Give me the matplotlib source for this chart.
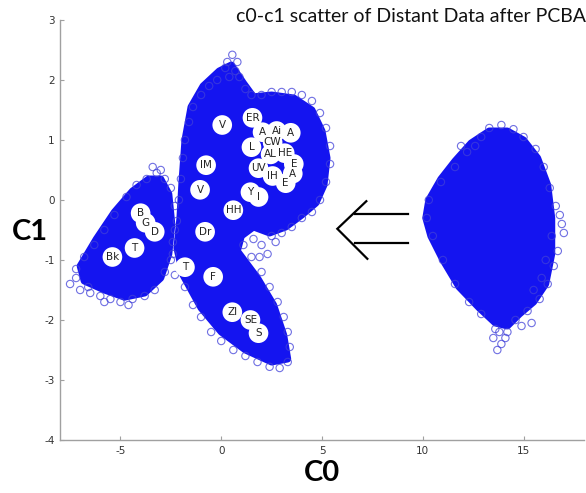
import matplotlib
matplotlib.use("Agg")
import matplotlib.pyplot as plt
from matplotlib.patches import Polygon

plt.rcParams['axes.unicode_minus'] = False

# ---- data (C0, C1) ----
# dense cores of the three clouds (outline vertices)
right_core_c0 = [13.3, 14.2, 15.0, 15.7, 16.2, 16.4, 16.4, 16.1, 15.5, 14.8, 14.2, 13.6, 12.8, 11.8, 11.0, 10.4, 10.15, 10.3, 10.9, 11.6, 12.4]
right_core_c1 = [1.15, 1.15, 1.0, 0.7, 0.25, -0.3, -0.9, -1.4, -1.7, -1.9, -2.1, -2.05, -1.8, -1.45, -1.0, -0.6, -0.3, 0.0, 0.35, 0.65, 0.95]

left_core_c0 = [-3.0, -2.6, -2.45, -2.6, -3.0, -3.8, -4.8, -5.8, -6.8, -7.0, -6.2, -5.3, -4.4, -3.6]
left_core_c1 = [0.35, 0.1, -0.4, -0.9, -1.3, -1.55, -1.62, -1.5, -1.35, -1.1, -0.65, -0.2, 0.15, 0.35]

mid_core_c0 = [0.5, 1.1, 1.6, 2.5, 3.6, 4.5, 5.0, 5.25, 5.1, 4.7, 4.0, 3.2, 2.4, 1.6, 1.0, 0.8, 1.8, 2.6, 3.1, 3.3, 2.5, 1.2, 0.0, -1.0, -1.9, -2.2, -2.05, -1.95, -1.8, -1.5, -0.9, -0.1]
mid_core_c1 = [2.25, 1.95, 1.72, 1.75, 1.7, 1.5, 1.15, 0.7, 0.25, -0.05, -0.25, -0.45, -0.55, -0.45, -0.6, -0.85, -1.3, -1.75, -2.25, -2.65, -2.7, -2.5, -2.2, -1.8, -1.25, -0.8, -0.3, 0.3, 1.0, 1.55, 1.9, 2.15]

# sparse points at the fringes of the clouds
right_pts_c0 = [13.3, 13.9, 14.5, 15.0, 12.6, 15.6, 16.0, 16.3, 16.6, 16.9, 17.0, 16.7, 16.5, 16.2, 15.8, 15.2, 14.6, 14.2, 13.9, 13.7, 13.5, 14.9, 15.4, 12.9, 12.3, 11.6, 11.0, 10.5, 10.2, 10.3, 10.9, 11.6, 12.2, 16.4, 16.1, 15.9, 15.5, 16.8, 14.1, 13.6, 13.8, 12.9, 11.9]
right_pts_c1 = [1.2, 1.25, 1.18, 1.05, 0.9, 0.85, 0.55, 0.2, -0.1, -0.4, -0.55, -0.85, -1.1, -1.4, -1.65, -1.85, -2.0, -2.2, -2.4, -2.5, -2.3, -2.1, -2.05, -1.9, -1.7, -1.4, -1.0, -0.6, -0.3, 0.0, 0.3, 0.55, 0.8, -0.6, -1.0, -1.3, -1.5, -0.25, -2.3, -2.15, -2.2, 1.05, 0.9]

left_pts_c0 = [-7.5, -7.2, -7.0, -6.5, -6.0, -5.5, -5.0, -4.4, -3.8, -3.3, -2.8, -2.4, -2.3, -2.3, -2.5, -2.8, -3.2, -3.7, -4.2, -4.7, -5.3, -5.8, -6.3, -6.8, -7.2, -3.4, -3.0, -6.6, -5.8, -4.6]
left_pts_c1 = [-1.4, -1.3, -1.5, -1.55, -1.6, -1.65, -1.7, -1.65, -1.6, -1.5, -1.2, -0.9, -0.5, -0.1, 0.2, 0.35, 0.45, 0.35, 0.25, 0.05, -0.25, -0.5, -0.75, -0.95, -1.15, 0.55, 0.5, -1.45, -1.7, -1.75]

mid_pts_c0 = [0.2, 0.55, 0.8, 0.4, 0.9, -0.2, -0.6, 1.2, -1.0, -1.4, -1.6, -1.8, -1.9, -2.0, -2.1, -2.2, -2.4, -2.5, -2.3, -1.8, -1.4, -1.0, -0.5, 0.0, 0.6, 1.2, 1.8, 2.4, 2.9, 3.3, 3.4, 3.3, 3.1, 2.8, 2.4, 2.0, 1.5, 1.1, 1.6, 2.0, 2.3, 2.5, 3.0, 3.5, 4.0, 4.5, 4.9, 5.2, 5.4, 5.4, 5.2, 4.9, 4.5, 4.0, 3.5, 3.0, 2.5, 2.0, 1.5, 0.3, 0.7, 1.9, 2.7]
mid_pts_c1 = [2.2, 2.42, 2.3, 2.05, 2.05, 2.0, 1.9, 1.85, 1.75, 1.55, 1.3, 1.0, 0.7, 0.35, 0.0, -0.35, -0.7, -1.0, -1.25, -1.45, -1.75, -1.95, -2.2, -2.35, -2.5, -2.6, -2.7, -2.78, -2.8, -2.7, -2.45, -2.2, -1.95, -1.7, -1.45, -1.2, -0.95, -0.75, -0.65, -0.75, -0.9, -0.6, -0.55, -0.45, -0.3, -0.2, 0.0, 0.3, 0.6, 0.9, 1.2, 1.45, 1.65, 1.75, 1.8, 1.8, 1.8, 1.75, 1.75, 2.3, 2.15, -0.95, -0.7]

# labelled samples
label_text = ["V", "ER", "A", "Ai", "A", "CW", "L", "AL", "HE", "E", "UV", "IH", "A", "E",
              "IM", "V", "HH", "Y", "I", "Dr", "T", "F", "ZI", "SE", "S",
              "B", "G", "D", "T", "Bk"]
label_c0 = [0.05, 1.55, 2.05, 2.75, 3.45, 2.55, 1.5, 2.45, 3.15, 3.6, 1.85, 2.55, 3.55, 3.2,
            -0.75, -1.05, 0.6, 1.45, 1.85, -0.8, -1.8, -0.4, 0.55, 1.45, 1.85,
            -4.0, -3.75, -3.3, -4.3, -5.4]
label_c1 = [1.25, 1.37, 1.13, 1.15, 1.12, 0.96, 0.88, 0.76, 0.78, 0.6, 0.53, 0.4, 0.44, 0.28,
            0.58, 0.17, -0.17, 0.13, 0.05, -0.53, -1.12, -1.28, -1.87, -2.0, -2.22,
            -0.22, -0.38, -0.53, -0.8, -0.95]

x_ticks = [-5, 0, 5, 10, 15]
y_ticks = [-4, -3, -2, -1, 0, 1, 2, 3]

# arrow pointing from the distant cloud towards the others
arrow_head_c0 = [7.2, 5.76, 7.25]
arrow_head_c1 = [-0.02, -0.48, -0.98]
arrow_shaft_c0 = [6.65, 9.28]
arrow_shaft_top_c1 = [-0.23, -0.23]
arrow_shaft_bot_c1 = [-0.72, -0.72]

# ---- figure ----
fig = plt.figure(figsize=(5.86, 4.93), dpi=100)
ax = fig.add_axes([60 / 586, 53 / 493, 524 / 586, 420 / 493])

core_color = '#1414f0'
ring_color = (0.25, 0.25, 0.85)
for cx, cy in [(right_core_c0, right_core_c1), (left_core_c0, left_core_c1), (mid_core_c0, mid_core_c1)]:
    ax.add_patch(Polygon(list(zip(cx, cy)), closed=True, facecolor=core_color,
                         edgecolor=core_color, linewidth=5, joinstyle='round', zorder=2))

for px, py in [(right_pts_c0, right_pts_c1), (left_pts_c0, left_pts_c1), (mid_pts_c0, mid_pts_c1)]:
    ax.scatter(px, py, s=28, facecolors='none', edgecolors=ring_color, linewidths=0.8,
               alpha=0.75, zorder=3)

ax.scatter(label_c0, label_c1, s=200, color='white', edgecolors='none', zorder=4)
for t, x, y in zip(label_text, label_c0, label_c1):
    ax.text(x, y, t, fontsize=7.5, color='#222222', ha='center', va='center', zorder=5,
            family='DejaVu Sans')

ax.plot(arrow_head_c0, arrow_head_c1, color='black', lw=1.6, zorder=3, solid_joinstyle='miter')
ax.plot(arrow_shaft_c0, arrow_shaft_top_c1, color='black', lw=1.6, zorder=3)
ax.plot(arrow_shaft_c0, arrow_shaft_bot_c1, color='black', lw=1.6, zorder=3)

ax.set_xlim(-8, 18)
ax.set_ylim(-4, 3)
ax.set_xticks(x_ticks)
ax.set_yticks(y_ticks)
for s in ['top', 'right']:
    ax.spines[s].set_visible(False)
for s in ['left', 'bottom']:
    ax.spines[s].set_color('#a0a0a0')
    ax.spines[s].set_linewidth(1.0)
ax.tick_params(direction='in', length=3, color='#a0a0a0', labelsize=7.5,
               labelcolor='#333333', pad=4)

fig.text(30 / 586, 1 - 232 / 493, 'C1', fontsize=21, fontweight='bold', family='Lato',
         ha='center', va='center')
fig.text(322 / 586, 1 - 473 / 493, 'C0', fontsize=21, fontweight='bold', family='Lato',
         ha='center', va='center')
fig.text(411 / 586, 1 - 17 / 493, 'c0-c1 scatter of Distant Data after PCBA', fontsize=14,
         family='Lato', ha='center', va='center', color='#111111')

fig.savefig('out.png', dpi=100)
